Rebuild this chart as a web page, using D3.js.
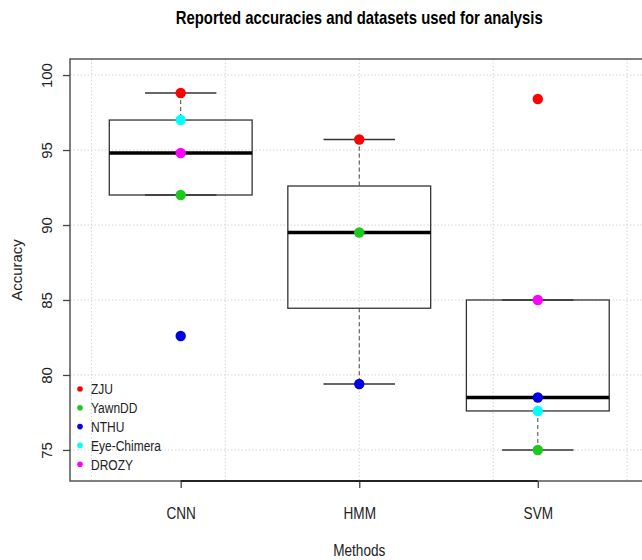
<!DOCTYPE html>
<html>
<head>
<meta charset="utf-8">
<script src="https://cdn.jsdelivr.net/npm/d3@7"></script>
<style>
  body { margin: 0; background: #fff; }
  svg { font-family: "Liberation Sans", Arial, sans-serif; }
</style>
</head>
<body>
<svg id="chart"></svg>
<script>
// methods on the x axis, datasets as coloured points
const methods = ['CNN', 'HMM', 'SVM'];
const datasets = ['ZJU', 'YawnDD', 'NTHU', 'Eye-Chimera', 'DROZY'];
const datasetColors = ['#ff0000', '#1ec81e', '#0000e6', '#00ffff', '#ff00ff'];

// accuracy of each dataset for CNN, HMM, SVM (null = not reported)
const zju = [98.8, 95.7, 98.4];
const yawnDD = [92.0, 89.5, 75.0];
const nthu = [82.6, 79.4, 78.5];
const eyeChimera = [97.0, null, 77.6];
const drozy = [94.8, null, 85.0];
const accuracyRows = [zju, yawnDD, nthu, eyeChimera, drozy];

const yTicks = [75, 80, 85, 90, 95, 100];
const xGrid = [0.5, 1.25, 2, 2.75, 3.5];

const width = 642;
const height = 560;
const squeeze = 0.85; // text in the original looks horizontally squeezed

const svg = d3.select('#chart')
  .attr('width', width)
  .attr('height', height);

const xScale = d3.scaleLinear()
  .domain([0.38, 3.62])
  .range([70, 648.5]);

const yScale = d3.scaleLinear()
  .domain([72.93, 101.07])
  .range([481, 59]);

// flatten into points
const points = [];
accuracyRows.forEach((row, di) => {
  row.forEach((v, mi) => {
    if (v !== null) points.push({ method: mi + 1, dataset: di, value: v });
  });
});

// box stats per method
const boxes = methods.map((m, i) => {
  const vals = accuracyRows.map(r => r[i]).filter(v => v !== null).sort(d3.ascending);
  const q1 = d3.quantile(vals, 0.25);
  const med = d3.quantile(vals, 0.5);
  const q3 = d3.quantile(vals, 0.75);
  const iqr = q3 - q1;
  const lo = d3.min(vals.filter(v => v >= q1 - 1.5 * iqr));
  const hi = d3.max(vals.filter(v => v <= q3 + 1.5 * iqr));
  return { pos: i + 1, q1, med, q3, lo, hi };
});

// grid
const grid = svg.append('g')
  .attr('stroke', '#d4d4d4')
  .attr('stroke-width', 1)
  .attr('stroke-dasharray', '1.5,2');

grid.selectAll('.hgrid')
  .data(yTicks)
  .enter()
  .append('line')
  .attr('x1', xScale.range()[0])
  .attr('x2', xScale.range()[1])
  .attr('y1', d => yScale(d))
  .attr('y2', d => yScale(d));

grid.selectAll('.vgrid')
  .data(xGrid)
  .enter()
  .append('line')
  .attr('x1', d => xScale(d))
  .attr('x2', d => xScale(d))
  .attr('y1', yScale.range()[1])
  .attr('y2', yScale.range()[0]);

// boxes
const boxW = xScale(1.4) - xScale(1);
const capW = boxW / 2;

const box = svg.selectAll('.box')
  .data(boxes)
  .enter()
  .append('g')
  .attr('class', 'box');

box.append('line')
  .attr('x1', d => xScale(d.pos))
  .attr('x2', d => xScale(d.pos))
  .attr('y1', d => yScale(d.hi))
  .attr('y2', d => yScale(d.q3))
  .attr('stroke', '#444')
  .attr('stroke-dasharray', '4,3');

box.append('line')
  .attr('x1', d => xScale(d.pos))
  .attr('x2', d => xScale(d.pos))
  .attr('y1', d => yScale(d.q1))
  .attr('y2', d => yScale(d.lo))
  .attr('stroke', '#444')
  .attr('stroke-dasharray', '4,3');

box.append('line')
  .attr('x1', d => xScale(d.pos) - capW)
  .attr('x2', d => xScale(d.pos) + capW)
  .attr('y1', d => yScale(d.hi))
  .attr('y2', d => yScale(d.hi))
  .attr('stroke', '#333')
  .attr('stroke-width', 1.5);

box.append('line')
  .attr('x1', d => xScale(d.pos) - capW)
  .attr('x2', d => xScale(d.pos) + capW)
  .attr('y1', d => yScale(d.lo))
  .attr('y2', d => yScale(d.lo))
  .attr('stroke', '#333')
  .attr('stroke-width', 1.5);

box.append('rect')
  .attr('x', d => xScale(d.pos) - boxW)
  .attr('y', d => yScale(d.q3))
  .attr('width', boxW * 2)
  .attr('height', d => yScale(d.q1) - yScale(d.q3))
  .attr('fill', 'none')
  .attr('stroke', '#333')
  .attr('stroke-width', 1.3);

box.append('line')
  .attr('x1', d => xScale(d.pos) - boxW)
  .attr('x2', d => xScale(d.pos) + boxW)
  .attr('y1', d => yScale(d.med))
  .attr('y2', d => yScale(d.med))
  .attr('stroke', '#000')
  .attr('stroke-width', 3.5);

// points
svg.selectAll('.pt')
  .data(points)
  .enter()
  .append('circle')
  .attr('cx', d => xScale(d.method))
  .attr('cy', d => yScale(d.value))
  .attr('r', 5.2)
  .attr('fill', d => datasetColors[d.dataset]);

// plot frame (right side falls outside the picture)
svg.append('path')
  .attr('d', `M${width + 5},${yScale.range()[1]}H${xScale.range()[0]}V${yScale.range()[0]}H${width + 5}`)
  .attr('fill', 'none')
  .attr('stroke', '#555')
  .attr('stroke-width', 1.5);

// y axis
const yAxis = svg.append('g')
  .attr('transform', `translate(${xScale.range()[0]},0)`)
  .call(d3.axisLeft(yScale).tickValues(yTicks).tickSize(7).tickSizeOuter(0));
yAxis.select('.domain').remove();
yAxis.selectAll('.tick line').attr('stroke', '#444').attr('stroke-width', 1.3);
yAxis.selectAll('.tick text')
  .attr('x', 0)
  .attr('dy', 0)
  .attr('transform', 'translate(-18,0) rotate(-90)')
  .attr('text-anchor', 'middle')
  .attr('font-size', 15)
  .attr('fill', '#222');

// x axis
const xAxis = svg.append('g')
  .attr('transform', `translate(0,${yScale.range()[0]})`)
  .call(d3.axisBottom(xScale).tickValues([1, 2, 3]).tickFormat(d => methods[d - 1]).tickSize(7).tickSizeOuter(0));
xAxis.select('.domain').remove();
xAxis.append('line')
  .attr('x1', xScale(1))
  .attr('x2', xScale(3))
  .attr('stroke', '#222')
  .attr('stroke-width', 2);
xAxis.selectAll('.tick line').attr('stroke', '#444').attr('stroke-width', 1.3);
xAxis.selectAll('.tick text')
  .attr('y', 0)
  .attr('dy', 0)
  .attr('transform', `translate(0,38) scale(${squeeze},1)`)
  .attr('font-size', 16)
  .attr('fill', '#222');

// titles
svg.append('text')
  .attr('transform', `translate(${xScale(2)},24) scale(${squeeze},1)`)
  .attr('text-anchor', 'middle')
  .attr('font-size', 17.5)
  .attr('font-weight', 'bold')
  .text('Reported accuracies and datasets used for analysis');

svg.append('text')
  .attr('transform', `translate(${xScale(2)},556) scale(${squeeze},1)`)
  .attr('text-anchor', 'middle')
  .attr('font-size', 16)
  .attr('fill', '#222')
  .text('Methods');

svg.append('text')
  .attr('transform', `translate(22,${yScale(87)}) rotate(-90)`)
  .attr('text-anchor', 'middle')
  .attr('font-size', 15)
  .attr('fill', '#222')
  .text('Accuracy');

// legend
const legend = svg.append('g')
  .attr('transform', 'translate(80,389)');

const item = legend.selectAll('.item')
  .data(datasets)
  .enter()
  .append('g')
  .attr('transform', (d, i) => `translate(0,${i * 18.8})`);

item.append('circle')
  .attr('r', 2.8)
  .attr('fill', (d, i) => datasetColors[i]);

item.append('text')
  .attr('transform', 'translate(11,0) scale(0.8,1)')
  .attr('dy', '0.36em')
  .attr('font-size', 15)
  .attr('fill', '#222')
  .text(d => d);
</script>
</body>
</html>
